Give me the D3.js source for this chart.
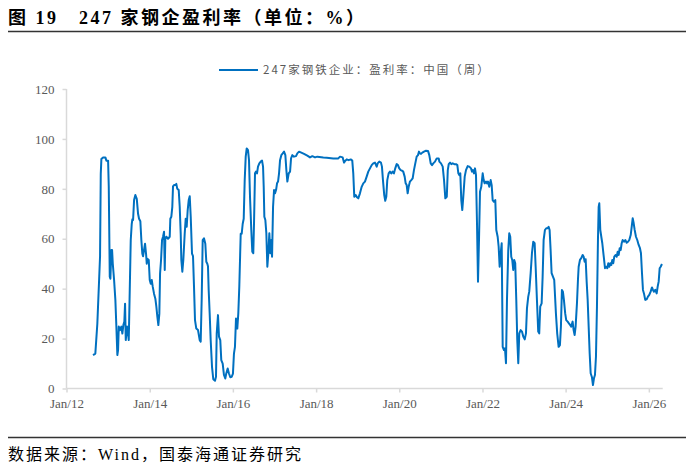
<!DOCTYPE html>
<html>
<head>
<meta charset="utf-8">
<script src="https://cdn.jsdelivr.net/npm/d3@7"></script>
<style>
  body { margin: 0; background: #fff; }
  svg { display: block; }
  .title { font-family: "Liberation Serif", "Noto Sans CJK SC", serif; font-weight: bold; font-size: 18px; fill: #000; letter-spacing: 2.5px; }
  .source { font-family: "Liberation Serif", "Noto Sans CJK SC", serif; font-size: 16px; fill: #000; letter-spacing: 2px; }
  .axis text { font-family: "Liberation Serif", serif; font-size: 13px; fill: #595959; }
  .axis path, .axis line { stroke: #d9d9d9; stroke-width: 1.5; }
  .legend text { font-family: "Noto Sans CJK SC", sans-serif; font-size: 11.5px; fill: #595959; letter-spacing: 2px; }
</style>
</head>
<body>
<svg id="vis" width="691" height="468"></svg>
<script>
// 247家钢铁企业：盈利率：中国（周），时间用小数年份表示
const years = [
  2012.637, 2012.692, 2012.740, 2012.781, 2012.805, 2012.822, 2012.837, 2012.877, 2012.933, 2012.957,
  2012.998, 2013.014, 2013.038, 2013.053, 2013.077, 2013.094, 2013.111, 2013.142, 2013.173, 2013.197,
  2013.221, 2013.238, 2013.255, 2013.286, 2013.317, 2013.341, 2013.365, 2013.389, 2013.406, 2013.423,
  2013.454, 2013.478, 2013.495, 2013.519, 2013.543, 2013.567, 2013.582, 2013.599, 2013.623, 2013.654,
  2013.688, 2013.719, 2013.743, 2013.774, 2013.798, 2013.822, 2013.839, 2013.863, 2013.887, 2013.911,
  2013.928, 2013.942, 2013.976, 2014.000, 2014.024, 2014.048, 2014.072, 2014.103, 2014.135, 2014.159,
  2014.183, 2014.207, 2014.231, 2014.248, 2014.272, 2014.296, 2014.320, 2014.344, 2014.361, 2014.375,
  2014.399, 2014.440, 2014.481, 2014.495, 2014.519, 2014.543, 2014.560, 2014.584, 2014.625, 2014.639,
  2014.663, 2014.697, 2014.721, 2014.745, 2014.760, 2014.784, 2014.808, 2014.841, 2014.865, 2014.889,
  2014.913, 2014.938, 2014.962, 2014.986, 2015.017, 2015.041, 2015.065, 2015.089, 2015.120, 2015.161,
  2015.202, 2015.226, 2015.250, 2015.274, 2015.305, 2015.337, 2015.361, 2015.385, 2015.401, 2015.418,
  2015.442, 2015.466, 2015.498, 2015.529, 2015.570, 2015.594, 2015.611, 2015.642, 2015.666, 2015.697,
  2015.721, 2015.755, 2015.786, 2015.817, 2015.841, 2015.875, 2015.906, 2015.938, 2015.971, 2016.002,
  2016.026, 2016.050, 2016.075, 2016.106, 2016.130, 2016.154, 2016.188, 2016.212, 2016.236, 2016.260,
  2016.284, 2016.308, 2016.332, 2016.363, 2016.387, 2016.411, 2016.442, 2016.466, 2016.490, 2016.507,
  2016.531, 2016.555, 2016.579, 2016.603, 2016.635, 2016.668, 2016.700, 2016.724, 2016.740, 2016.755,
  2016.779, 2016.803, 2016.827, 2016.851, 2016.875, 2016.899, 2016.923, 2016.940, 2016.964, 2016.988,
  2017.012, 2017.036, 2017.060, 2017.084, 2017.108, 2017.132, 2017.163, 2017.197, 2017.228, 2017.260,
  2017.284, 2017.308, 2017.341, 2017.373, 2017.397, 2017.428, 2017.469, 2017.517, 2017.548, 2017.589,
  2017.644, 2017.709, 2017.788, 2017.853, 2017.909, 2017.974, 2018.029, 2018.173, 2018.255, 2018.413,
  2018.534, 2018.575, 2018.639, 2018.671, 2018.702, 2018.736, 2018.784, 2018.832, 2018.870, 2018.894,
  2018.918, 2018.952, 2018.983, 2019.014, 2019.055, 2019.096, 2019.135, 2019.175, 2019.216, 2019.255,
  2019.296, 2019.337, 2019.375, 2019.416, 2019.457, 2019.481, 2019.519, 2019.560, 2019.584, 2019.608,
  2019.639, 2019.663, 2019.688, 2019.712, 2019.745, 2019.776, 2019.808, 2019.841, 2019.873, 2019.904,
  2019.938, 2019.969, 2020.000, 2020.034, 2020.065, 2020.096, 2020.130, 2020.154, 2020.178, 2020.202,
  2020.226, 2020.257, 2020.288, 2020.322, 2020.353, 2020.385, 2020.418, 2020.450, 2020.474, 2020.498,
  2020.522, 2020.553, 2020.594, 2020.642, 2020.690, 2020.721, 2020.755, 2020.786, 2020.817, 2020.858,
  2020.899, 2020.947, 2020.962, 2021.002, 2021.043, 2021.075, 2021.106, 2021.141, 2021.165, 2021.188,
  2021.220, 2021.251, 2021.284, 2021.322, 2021.363, 2021.395, 2021.419, 2021.442, 2021.466, 2021.490,
  2021.514, 2021.538, 2021.572, 2021.603, 2021.644, 2021.683, 2021.724, 2021.748, 2021.772, 2021.796,
  2021.820, 2021.844, 2021.868, 2021.892, 2021.916, 2021.940, 2021.971, 2022.005, 2022.029, 2022.053,
  2022.084, 2022.108, 2022.132, 2022.163, 2022.197, 2022.221, 2022.245, 2022.276, 2022.308, 2022.332,
  2022.365, 2022.389, 2022.413, 2022.438, 2022.462, 2022.486, 2022.517, 2022.541, 2022.565, 2022.589,
  2022.620, 2022.644, 2022.668, 2022.692, 2022.716, 2022.740, 2022.764, 2022.788, 2022.813, 2022.837,
  2022.861, 2022.885, 2022.918, 2022.950, 2022.981, 2023.016, 2023.046, 2023.070, 2023.101, 2023.125,
  2023.159, 2023.190, 2023.221, 2023.255, 2023.279, 2023.310, 2023.341, 2023.365, 2023.389, 2023.423,
  2023.447, 2023.471, 2023.502, 2023.534, 2023.568, 2023.591, 2023.615, 2023.639, 2023.663, 2023.695,
  2023.726, 2023.767, 2023.798, 2023.832, 2023.863, 2023.887, 2023.911, 2023.935, 2023.959, 2023.990,
  2024.014, 2024.049, 2024.079, 2024.111, 2024.135, 2024.168, 2024.192, 2024.216, 2024.240, 2024.272,
  2024.296, 2024.313, 2024.344, 2024.375, 2024.409, 2024.433, 2024.457, 2024.481, 2024.505, 2024.529,
  2024.553, 2024.577, 2024.601, 2024.632, 2024.656, 2024.680, 2024.704, 2024.728, 2024.752, 2024.776,
  2024.793, 2024.808, 2024.832, 2024.856, 2024.880, 2024.915, 2024.945, 2024.976, 2025.000, 2025.024,
  2025.048, 2025.072, 2025.096, 2025.120, 2025.144, 2025.168, 2025.202, 2025.226, 2025.250, 2025.274,
  2025.298, 2025.322, 2025.346, 2025.370, 2025.403, 2025.433, 2025.466, 2025.498, 2025.529, 2025.563,
  2025.587, 2025.611, 2025.635, 2025.659, 2025.690, 2025.721, 2025.755, 2025.786, 2025.810, 2025.835,
  2025.858, 2025.882, 2025.913, 2025.947, 2025.978, 2026.010, 2026.043, 2026.075, 2026.099, 2026.123,
  2026.154, 2026.188, 2026.212, 2026.236, 2026.260, 2026.284, 2026.315
];

const rates = [
  13.4, 14.0, 26.0, 43.0, 53.0, 86.0, 92.0, 92.6, 92.6, 91.3,
  91.3, 81.0, 44.8, 44.0, 55.5, 55.5, 50.0, 43.5, 35.5, 24.8,
  13.4, 15.4, 24.8, 23.4, 24.8, 22.0, 25.4, 26.8, 34.0, 19.4,
  24.8, 22.0, 19.4, 39.5, 59.5, 66.0, 67.8, 67.5, 75.5, 77.5,
  76.0, 70.0, 68.0, 67.0, 59.5, 54.0, 53.0, 55.5, 58.0, 54.0,
  50.0, 52.0, 51.5, 43.5, 42.0, 43.5, 40.8, 38.0, 36.0, 32.8,
  28.8, 25.4, 30.0, 46.0, 51.5, 59.5, 60.8, 62.8, 47.5, 60.0,
  60.8, 60.0, 60.8, 68.0, 68.8, 72.8, 81.0, 81.5, 81.5, 82.0,
  80.0, 79.5, 72.8, 62.0, 51.5, 46.8, 51.5, 62.0, 68.0, 64.8,
  71.5, 75.5, 77.0, 68.8, 54.0, 53.0, 40.8, 27.4, 24.0, 23.4,
  19.4, 18.8, 36.0, 59.5, 60.2, 58.0, 50.8, 50.0, 49.0, 39.5,
  30.0, 19.4, 8.7, 3.7, 3.1, 4.7, 22.0, 29.4, 20.8, 19.4,
  11.4, 10.0, 5.4, 4.0, 6.0, 8.0, 6.0, 4.5, 4.7, 6.0,
  14.0, 16.7, 28.0, 24.0, 30.0, 40.8, 62.0, 62.0, 66.0, 68.0,
  83.5, 92.9, 96.2, 95.5, 91.5, 76.8, 63.5, 54.8, 54.2, 66.0,
  86.2, 86.9, 86.2, 88.9, 90.2, 90.9, 91.3, 88.9, 80.8, 68.8,
  67.5, 62.2, 48.8, 54.2, 62.2, 54.2, 59.5, 52.8, 72.8, 79.5,
  78.2, 79.5, 82.2, 82.9, 86.2, 91.5, 93.5, 94.2, 94.9, 93.5,
  87.5, 82.9, 86.2, 86.9, 92.2, 93.5, 92.9, 93.1, 94.2, 94.9,
  94.5, 94.0, 93.3, 92.6, 93.1, 92.6, 92.9, 92.6, 92.5, 92.2,
  92.2, 92.9, 92.6, 90.5, 91.3, 91.8, 91.5, 91.8, 91.3, 86.2,
  76.8, 77.5, 76.6, 76.2, 78.2, 80.8, 82.2, 82.9, 84.9, 86.9,
  88.2, 89.5, 90.2, 90.5, 88.9, 90.2, 90.9, 90.5, 88.9, 83.5,
  77.5, 75.2, 76.8, 83.5, 86.2, 86.9, 86.2, 86.9, 86.2, 88.2,
  89.9, 89.5, 88.2, 87.5, 87.3, 86.9, 84.9, 82.2, 81.5, 78.2,
  80.8, 82.9, 83.5, 84.2, 87.5, 90.2, 92.9, 93.5, 94.9, 94.2,
  94.0, 94.5, 94.9, 95.3, 95.2, 93.5, 90.2, 89.5, 90.2, 90.9,
  92.2, 92.2, 90.9, 90.2, 88.9, 83.5, 76.2, 76.8, 87.5, 89.9,
  90.5, 89.9, 90.2, 89.9, 89.9, 89.5, 86.2, 85.5, 86.2, 75.5,
  71.5, 76.8, 84.9, 87.5, 89.1, 88.9, 88.2, 86.9, 87.5, 86.2,
  88.2, 85.5, 66.2, 42.8, 59.5, 78.8, 80.8, 86.2, 83.5, 82.2,
  82.9, 82.2, 82.9, 80.8, 83.5, 81.5, 75.5, 74.8, 75.5, 63.5,
  60.8, 56.8, 48.8, 54.2, 58.2, 16.7, 15.4, 16.1, 10.1, 35.5,
  55.5, 62.2, 60.8, 52.8, 51.5, 47.5, 51.5, 50.2, 35.5, 19.4,
  10.1, 22.1, 23.4, 22.8, 20.8, 19.7, 22.1, 32.1, 36.8, 38.8,
  46.2, 54.2, 58.8, 58.2, 48.8, 35.5, 22.8, 22.1, 32.8, 34.1,
  44.8, 59.5, 63.5, 64.2, 64.2, 64.8, 63.5, 55.5, 46.2, 44.8,
  43.5, 30.0, 22.0, 16.7, 17.4, 24.8, 39.5, 38.8, 35.5, 30.1,
  27.4, 26.8, 26.1, 25.4, 24.8, 26.8, 23.4, 21.4, 24.8, 34.1,
  43.5, 48.8, 51.5, 52.2, 53.5, 52.8, 50.8, 51.8, 42.8, 35.5,
  24.8, 14.1, 6.1, 4.5, 1.4, 4.1, 5.4, 12.7, 32.8, 59.5,
  72.8, 74.2, 63.5, 60.8, 58.2, 52.8, 48.2, 48.8, 48.2, 50.2,
  48.8, 50.2, 49.5, 51.5, 50.2, 52.8, 53.5, 52.8, 54.8, 53.5,
  56.2, 55.5, 58.2, 59.5, 58.8, 59.5, 58.4, 58.8, 59.5, 61.5,
  64.8, 68.2, 66.2, 63.5, 60.8, 59.5, 57.5, 56.2, 54.2, 46.2,
  39.5, 38.1, 35.5, 35.7, 36.8, 37.5, 38.8, 40.5, 39.5, 38.8,
  39.5, 38.1, 40.8, 42.8, 48.2, 48.8, 49.9
];

const yTicks = [0, 20, 40, 60, 80, 100, 120];
const xTickYears = [2012, 2014, 2016, 2018, 2020, 2022, 2024, 2026];
const titleText = "图 19　247 家钢企盈利率（单位：%）";
const legendText = "247家钢铁企业：盈利率：中国（周）";
const sourceText = "数据来源：Wind，国泰海通证券研究";

// 小数年份 -> Date
function toDate(y) {
  const yr = Math.floor(y);
  const start = new Date(yr, 0, 1), end = new Date(yr + 1, 0, 1);
  return new Date(+start + (y - yr) * (end - start));
}

const data = years.map((y, i) => ({ date: toDate(y), value: rates[i] }));

const svg = d3.select("svg#vis");

// 标题和上下分隔线
svg.append("text").attr("class", "title").attr("x", 8).attr("y", 24).text(titleText);
svg.append("line").attr("x1", 8).attr("x2", 686).attr("y1", 31.5).attr("y2", 31.5)
  .attr("stroke", "#333").attr("stroke-width", 1.3);
svg.append("line").attr("x1", 8).attr("x2", 686).attr("y1", 437.5).attr("y2", 437.5)
  .attr("stroke", "#333").attr("stroke-width", 1.3);
svg.append("text").attr("class", "source").attr("x", 8).attr("y", 460).text(sourceText);

const x = d3.scaleTime()
  .domain([new Date(2012, 0, 1), toDate(2026.333)])
  .range([66.5, 662.7]);

const y = d3.scaleLinear()
  .domain([0, 120])
  .range([388.5, 89]);

// y axis
const yAxis = svg.append("g").attr("class", "axis")
  .attr("transform", "translate(66.5,0)")
  .call(d3.axisLeft(y).tickValues(yTicks).tickSize(4).tickPadding(8));
yAxis.select(".domain").attr("d", "M0," + y(120) + "V" + y(0));

// x axis
const xAxis = svg.append("g").attr("class", "axis")
  .attr("transform", "translate(0,388.5)")
  .call(d3.axisBottom(x)
    .tickValues(xTickYears.map(v => new Date(v, 0, 1)))
    .tickFormat(d3.timeFormat("Jan/%y"))
    .tickSize(4).tickPadding(6));
xAxis.select(".domain").attr("d", "M" + x.range()[0] + ",0H" + x.range()[1]);

// line
const line = d3.line()
  .x(d => x(d.date))
  .y(d => y(d.value));

svg.append("path")
  .datum(data)
  .attr("fill", "none")
  .attr("stroke", "#0070C0")
  .attr("stroke-width", 2)
  .attr("stroke-linejoin", "round")
  .attr("d", line);

// legend
const legend = svg.append("g").attr("class", "legend");
legend.append("line").attr("x1", 219).attr("x2", 258).attr("y1", 70).attr("y2", 70)
  .attr("stroke", "#0070C0").attr("stroke-width", 2);
legend.append("text").attr("x", 263).attr("y", 74).text(legendText);
</script>
</body>
</html>
